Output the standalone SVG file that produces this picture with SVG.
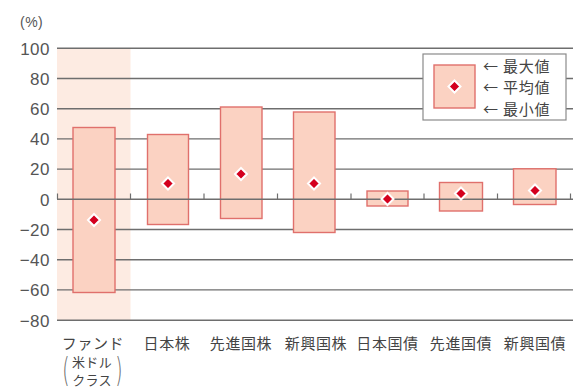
<svg xmlns="http://www.w3.org/2000/svg" width="573" height="390" viewBox="0 0 573 390">
<style>
.bg{fill:#ffffff}
.band{fill:#fdebe2}
.grid line{stroke:#6e6e6e;stroke-width:1.4}
.tick{stroke:#6e6e6e;stroke-width:1.2}
.bar{fill:#fbd2c2;stroke:#e0706c;stroke-width:1.4}
.mean{fill:#d4001e;stroke:#ffffff;stroke-width:2}
.ax{font-family:"Liberation Sans",Arial,sans-serif;font-size:17px;fill:#555555;text-anchor:end;letter-spacing:0.5px}
.cat{font-family:"Noto Sans CJK JP","Noto Sans CJK SC",sans-serif;font-size:15px;fill:#444444;text-anchor:middle;letter-spacing:0.6px}
.sub{font-size:13px;letter-spacing:0.3px}
.leg{font-family:"Noto Sans CJK JP","Noto Sans CJK SC",sans-serif;font-size:15px;fill:#444444;letter-spacing:0.8px}
.paren{font-family:"DejaVu Sans",sans-serif;font-size:34px;fill:#666666;text-anchor:middle;font-weight:200}
</style>
<rect class="bg" x="0" y="0" width="573" height="390"/>
<rect class="band" x="57" y="48" width="73.5" height="272"/>
<g id="grid" class="grid">
<line x1="57" y1="48.3" x2="573" y2="48.3"/>
<line x1="57" y1="78.5" x2="573" y2="78.5"/>
<line x1="57" y1="108.7" x2="573" y2="108.7"/>
<line x1="57" y1="138.9" x2="573" y2="138.9"/>
<line x1="57" y1="169.1" x2="573" y2="169.1"/>
<line x1="57" y1="229.5" x2="573" y2="229.5"/>
<line x1="57" y1="259.7" x2="573" y2="259.7"/>
<line x1="57" y1="289.9" x2="573" y2="289.9"/>
<line x1="57" y1="320.3" x2="573" y2="320.3"/>
</g>
<g id="axis-labels">
<text class="ax" x="20" y="27" style="font-size:14px;text-anchor:start">(%)</text>
<text class="ax" x="50" y="54.5">100</text>
<text class="ax" x="50" y="84.7">80</text>
<text class="ax" x="50" y="114.9">60</text>
<text class="ax" x="50" y="145.1">40</text>
<text class="ax" x="50" y="175.3">20</text>
<text class="ax" x="50" y="205.5">0</text>
<text class="ax" x="50" y="235.7">−20</text>
<text class="ax" x="50" y="265.9">−40</text>
<text class="ax" x="50" y="296.1">−60</text>
<text class="ax" x="50" y="326.5">−80</text>
</g>
<g id="bar-fund">
<rect class="bar" x="73" y="127.5" width="42" height="165"/>
</g>
<g id="bar-jp-equity">
<rect class="bar" x="147.5" y="134.5" width="41" height="90"/>
</g>
<g id="bar-dev-equity">
<rect class="bar" x="220.5" y="107" width="41.5" height="111.5"/>
</g>
<g id="bar-em-equity">
<rect class="bar" x="293.5" y="112" width="41.5" height="120.5"/>
</g>
<g id="bar-jp-bond">
<rect class="bar" x="367" y="191" width="41" height="15"/>
</g>
<g id="bar-dev-bond">
<rect class="bar" x="439.5" y="182.5" width="43" height="28.5"/>
</g>
<g id="bar-em-bond">
<rect class="bar" x="513.5" y="168.8" width="42.5" height="35.7"/>
</g>
<g id="zero-line">
<line class="tick" x1="57" y1="199.3" x2="573" y2="199.3" style="stroke-width:1.4"/>
<line class="tick" x1="57.5" y1="193.5" x2="57.5" y2="199.3"/>
<line class="tick" x1="130.5" y1="193.5" x2="130.5" y2="199.3"/>
<line class="tick" x1="204" y1="193.5" x2="204" y2="199.3"/>
<line class="tick" x1="277.5" y1="193.5" x2="277.5" y2="199.3"/>
<line class="tick" x1="351" y1="193.5" x2="351" y2="199.3"/>
<line class="tick" x1="424" y1="193.5" x2="424" y2="199.3"/>
<line class="tick" x1="497.5" y1="193.5" x2="497.5" y2="199.3"/>
<line class="tick" x1="570.5" y1="193.5" x2="570.5" y2="199.3"/>
</g>
<g id="means">
<path class="mean" d="M94 214 L100 220 L94 226 L88 220 Z"/>
<path class="mean" d="M168 177.5 L174 183.5 L168 189.5 L162 183.5 Z"/>
<path class="mean" d="M241 168 L247 174 L241 180 L235 174 Z"/>
<path class="mean" d="M314 177.5 L320 183.5 L314 189.5 L308 183.5 Z"/>
<path class="mean" d="M387.5 193 L393.5 199 L387.5 205 L381.5 199 Z"/>
<path class="mean" d="M461 187.5 L467 193.5 L461 199.5 L455 193.5 Z"/>
<path class="mean" d="M535 184.5 L541 190.5 L535 196.5 L529 190.5 Z"/>
</g>
<g id="legend">
<rect x="423" y="54" width="143" height="66" fill="#ffffff" stroke="#8a8a8a" stroke-width="1.2"/>
<rect class="bar" x="434" y="65" width="41" height="43"/>
<path class="mean" d="M454.5 80.5 L460.5 86.5 L454.5 92.5 L448.5 86.5 Z"/>
<text class="leg" x="483" y="72">← 最大値</text>
<text class="leg" x="483" y="92.5">← 平均値</text>
<text class="leg" x="483" y="114.5">← 最小値</text>
</g>
<g id="categories">
<text class="cat" x="93" y="349">ファンド</text>
<text class="cat sub" x="92" y="367">米ドル</text>
<text class="cat sub" x="92" y="384.5">クラス</text>
<text class="paren" transform="translate(66,382) scale(0.55,1)" x="0" y="0">(</text>
<text class="paren" transform="translate(119,382) scale(0.55,1)" x="0" y="0">)</text>
<text class="cat" x="167" y="349">日本株</text>
<text class="cat" x="241" y="349">先進国株</text>
<text class="cat" x="316" y="349">新興国株</text>
<text class="cat" x="387.5" y="349">日本国債</text>
<text class="cat" x="461" y="349">先進国債</text>
<text class="cat" x="535" y="349">新興国債</text>
</g>
</svg>
